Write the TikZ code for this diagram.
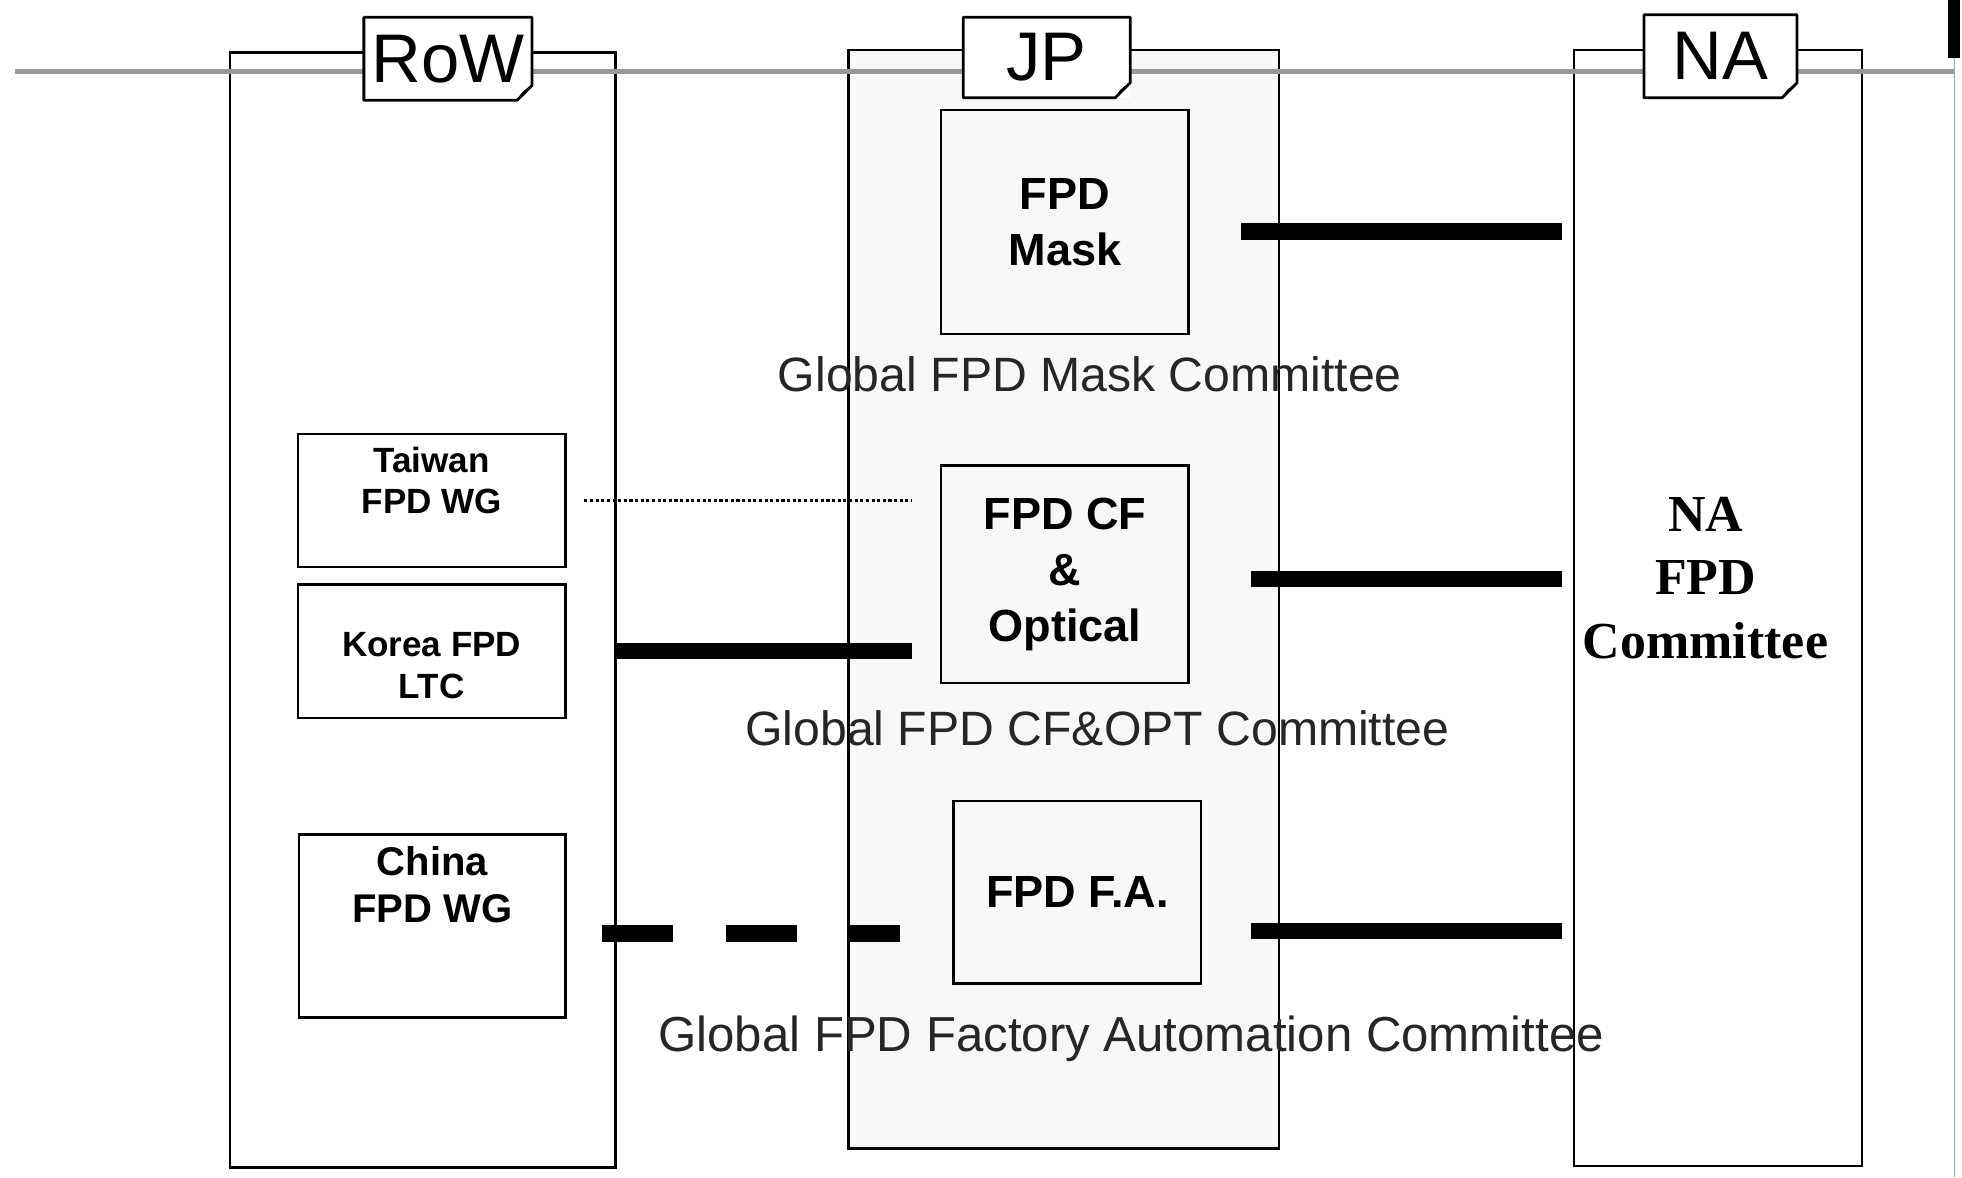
\documentclass[tikz,border=0pt]{standalone}
\usepackage{fontspec}
\setmainfont{Liberation Sans}
\newfontfamily\serifna{Liberation Serif}
\usetikzlibrary{calc}
\newcommand\fsz[2]{\fontsize{#1}{#2}\selectfont}
\newcommand\dogear[1]{%
  \draw[lbloutline] (#1.north west) -- (#1.north east) -- ($(#1.south east)+(0,-12)$) -- ($(#1.south east)+(-12,0)$) -- (#1.south west) -- cycle;
  \fill ($(#1.south east)+(0,-12)$) .. controls ($(#1.south east)+(-8,-7)$) .. ($(#1.south east)+(-12,0)$) -- cycle;
}
\begin{document}
\begin{tikzpicture}[x=1pt,y=-1pt,
  col/.style={draw, line width=2pt, inner sep=0pt},
  lbl/.style={fill=white, inner sep=0pt, font=\fsz{55}{60}},
  lbloutline/.style={draw, line width=2.2pt, line join=round},
  fbox/.style={draw, line width=2pt, inner sep=0pt, align=center, minimum width=198pt, font=\bfseries\fsz{36}{45}},
  wg/.style={draw, line width=2pt, inner sep=0pt, minimum width=214pt},
  wgtext/.style={align=center, inner sep=0pt, font=\bfseries\fsz{28}{33}},
  gtext/.style={inner sep=0pt, text=black!85, font=\fsz{38.5}{40}},
  heavy/.style={line width=13pt},
  dotline/.style={line width=2pt, dash pattern=on 2.5pt off 2pt}]

\fill[white] (0,0) rectangle (1568,941);
\useasboundingbox (0,0) rectangle (1568,941);

% columns
\node[col, minimum width=308pt, minimum height=891pt] (row) at (338,487.5) {};
\node[col, fill=gray!6, minimum width=344pt, minimum height=878pt] (jp) at (850,479) {};
\node[col, minimum width=230pt, minimum height=892pt] (na) at (1373,486) {};

% grey band and right edge
\draw[gray!80, line width=3.5pt] (12,57) -- (1562,57);
\fill[black] (1557,0) rectangle (1566,46);
\draw[gray!70, line width=1.5pt] (1562,46) -- (1562,941);

% region labels
\node[lbl, minimum width=134pt, minimum height=66pt] (rowlab) at (358,47) {RoW};
\dogear{rowlab}
\node[lbl, minimum width=133pt, minimum height=64pt] (jplab) at (836.5,46) {JP};
\dogear{jplab}
\node[lbl, minimum width=122pt, minimum height=66pt] (nalab) at (1375,45) {NA};
\dogear{nalab}

% JP committee boxes
\node[fbox, minimum height=179pt] (mask) at (851,177.5) {FPD\\Mask};
\node[fbox, minimum height=174pt] (cf) at (851,459) {FPD CF\\\&\\Optical};
\node[fbox, minimum height=146pt] (fa) at (861,713) {FPD F.A.};

\node[gtext] (gmask) at (871,299) {Global FPD Mask Committee};
\node[gtext] (gcf) at (877,582) {Global FPD CF\&OPT Committee};
\node[gtext, font=\fsz{39.3}{41}] (gfa) at (904,830) {Global FPD Factory Automation Committee};

% RoW boxes
\node[wg, minimum height=106pt] (taiwan) at (345,400) {};
\node[wgtext] (taiwant) at (345,384) {Taiwan\\FPD WG};
\node[wg, minimum height=107pt] (korea) at (345,520.5) {};
\node[wgtext] (koreat) at (345,532) {Korea FPD\\LTC};
\node[wg, minimum height=146pt, minimum width=213pt] (china) at (345.5,740) {};
\node[wgtext, font=\bfseries\fsz{32}{38}] (chinat) at (345.5,707) {China\\FPD WG};

% NA committee
\node[align=center, inner sep=0pt, font=\serifna\bfseries\fsz{41.5}{51}] (nacomm) at (1363,462) {NA\\FPD\\Committee};

% connectors
\draw[dotline] ([xshift=14pt]taiwan.east) -- ([xshift=-22pt]cf.west |- taiwan.east);
\draw[heavy] (korea.east -| row.east) -- ([xshift=-22pt]cf.west |- korea.east);
\coordinate (c1) at ($(china.east)+(28,6)$);
\draw[heavy, dash pattern=on 57pt off 42pt] (c1) -- ([xshift=-42pt]fa.west |- c1);
\coordinate (m1) at ($(mask.east)+(41,7.5)$);
\draw[heavy] (m1) -- ([xshift=-9pt]m1 -| na.west);
\coordinate (f1) at ($(cf.east)+(49,4)$);
\draw[heavy] (f1) -- ([xshift=-9pt]f1 -| na.west);
\coordinate (a1) at ($(fa.east)+(39,31)$);
\draw[heavy] (a1) -- ([xshift=-9pt]a1 -| na.west);
\end{tikzpicture}
\end{document}
